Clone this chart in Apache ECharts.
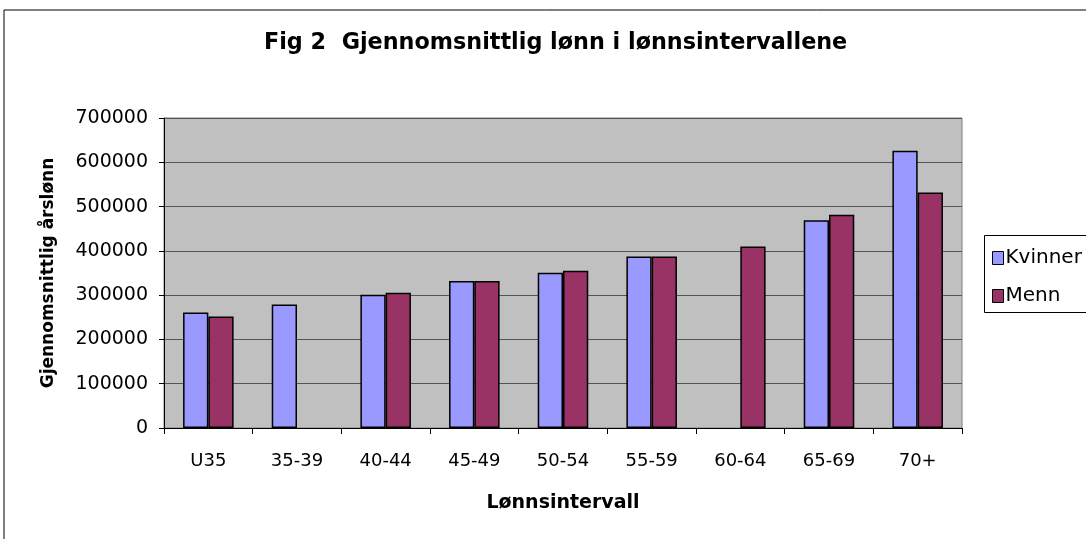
<!DOCTYPE html>
<html>
<head>
<meta charset="utf-8">
<script src="https://cdn.jsdelivr.net/npm/echarts@6/dist/echarts.min.js"></script>
<style>
  html, body { margin: 0; padding: 0; background: #fff; }
  #main { width: 1086px; height: 539px; }
</style>
</head>
<body>
<div id="main"></div>
<script>
// lønnsintervaller
const categories = ['U35', '35-39', '40-44', '45-49', '50-54', '55-59', '60-64', '65-69', '70+'];
// gjennomsnittlig årslønn (lest av figuren)
const kvinner = [261000, 279000, 301000, 332000, 350500, 387500, null, 469000, 626000];
const menn = [251500, null, 305500, 332000, 355000, 387500, 410000, 481500, 532000];

const chart = echarts.init(document.getElementById('main'));
const font = '"DejaVu Sans", Verdana, sans-serif';

chart.setOption({
    animation: false,
    backgroundColor: '#fff',
    textStyle: { fontFamily: font },
    title: {
        text: 'Fig 2  Gjennomsnittlig lønn i lønnsintervallene',
        left: 259,
        top: 27,
        textStyle: { fontSize: 22.3, fontWeight: 'bold', color: '#000', fontFamily: font }
    },
    graphic: [
        {
            // ytre ramme
            type: 'rect',
            shape: { x: 4, y: 10, width: 1200, height: 700 },
            style: { fill: 'none', stroke: '#000', lineWidth: 1 },
            silent: true
        },
        {
            // ramme rundt legenden
            type: 'rect',
            shape: { x: 984.5, y: 235.5, width: 200, height: 77 },
            style: { fill: 'none', stroke: '#000', lineWidth: 1 },
            silent: true
        }
    ],
    legend: {
        orient: 'vertical',
        left: 984,
        top: 248,
        padding: [0, 0, 0, 8],
        itemWidth: 11,
        itemHeight: 13,
        itemGap: 18,
        textStyle: { fontSize: 20, color: '#000', fontFamily: font, padding: [0, 0, 0, -3] },
        data: [
            { name: 'Kvinner', icon: 'rect', itemStyle: { borderColor: '#000', borderWidth: 1 } },
            { name: 'Menn', icon: 'rect', itemStyle: { borderColor: '#000', borderWidth: 1 } }
        ]
    },
    grid: {
        left: 164,
        right: 124,
        top: 118,
        bottom: 111,
        show: true,
        backgroundColor: '#C0C0C0',
        borderColor: '#808080',
        borderWidth: 1
    },
    xAxis: {
        type: 'category',
        data: categories,
        name: 'Lønnsintervall',
        nameLocation: 'middle',
        nameGap: 66,
        nameTextStyle: { fontSize: 19, fontWeight: 'bold', color: '#000' },
        axisLine: { lineStyle: { color: '#000', width: 1 } },
        axisTick: { show: true, length: 6, lineStyle: { color: '#000' } },
        axisLabel: { fontSize: 18, color: '#000', margin: 24 }
    },
    yAxis: {
        type: 'value',
        min: 0,
        max: 700000,
        interval: 100000,
        name: 'Gjennomsnittlig årslønn',
        nameLocation: 'middle',
        nameGap: 107,
        nameTextStyle: { fontSize: 17, fontWeight: 'bold', color: '#000' },
        axisLine: { show: true, lineStyle: { color: '#000', width: 1 } },
        axisTick: { show: true, length: 5, lineStyle: { color: '#000' } },
        axisLabel: { fontSize: 19, color: '#000', margin: 16, formatter: v => String(v) },
        splitLine: { lineStyle: { color: '#555', width: 1 } }
    },
    series: [
        {
            name: 'Kvinner',
            type: 'bar',
            data: kvinner,
            barGap: '0%',
            barCategoryGap: '43%',
            itemStyle: { color: '#9999FF', borderColor: '#000', borderWidth: 1.5 }
        },
        {
            name: 'Menn',
            type: 'bar',
            data: menn,
            itemStyle: { color: '#993366', borderColor: '#000', borderWidth: 1.5 }
        }
    ]
});
</script>
</body>
</html>
